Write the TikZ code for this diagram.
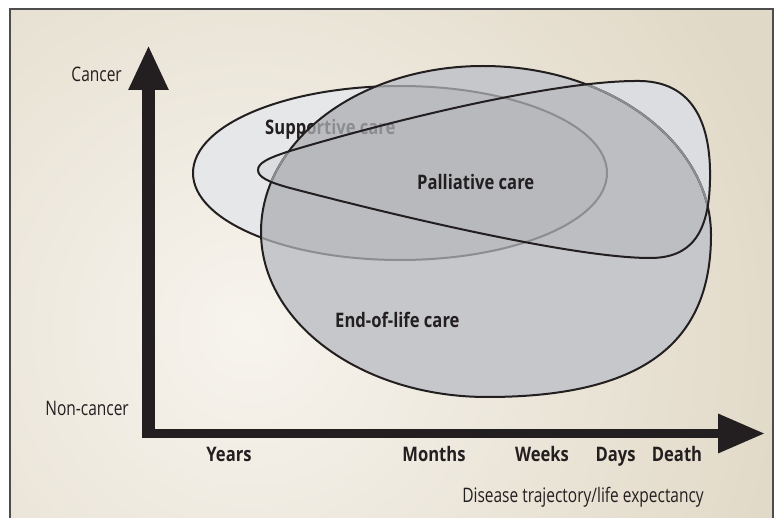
\documentclass[tikz,border=0pt]{standalone}
\usepackage{fontspec}
\usetikzlibrary{arrows.meta}
\newfontfamily\lblfont[FakeStretch=0.775]{Open Sans}
\newfontfamily\bldfont[FakeStretch=0.83]{Open Sans}
\definecolor{ink}{HTML}{231F20}
\definecolor{beige}{HTML}{E1D9C7}
\definecolor{beigelight}{HTML}{F7F4EE}
\definecolor{frameline}{HTML}{4D4D4D}
\definecolor{ellfill}{HTML}{E6E7E9}
\definecolor{tearfill}{HTML}{DCDDE0}
\definecolor{circfill}{HTML}{C6C7CA}
\definecolor{ovlA}{HTML}{BBBCBF}
\definecolor{ovlB}{HTML}{BDBEC1}
\definecolor{ovlC}{HTML}{B8B9BC}
\definecolor{greyline}{HTML}{8C8D90}
\begin{document}
\begin{tikzpicture}[x=1pt,y=-1pt,
  lbl/.style={font=\lblfont\fontsize{20}{23}\selectfont, text=ink, inner sep=0pt},
  bl/.style={font=\bldfont\bfseries\fontsize{20}{23}\selectfont, text=ink, inner sep=0pt},
  outl/.style={line width=2pt, draw=ink},
  greyl/.style={line width=2pt, draw=greyline},
  axis/.style={draw=ink, line cap=butt}]
\def\pathE{(400,173) ellipse [x radius=207, y radius=87]}
\def\pathC{(483,66) .. controls (609,66) and (711,142) .. (711,235)
  .. controls (711,345) and (640,397) .. (487,397)
  .. controls (362,397) and (261,323) .. (261,232)
  .. controls (261,140) and (360,66) .. (483,66) -- cycle}
\def\pathT{(258,170) .. controls (258,163) and (268,158) .. (290,151)
  .. controls (400,118) and (560,80) .. (640,81)
  .. controls (700,82) and (711,135) .. (710,180)
  .. controls (709,235) and (690,258) .. (650,258)
  .. controls (580,258) and (420,222) .. (290,188)
  .. controls (268,182) and (258,177) .. (258,170) -- cycle}
\useasboundingbox (0,0) rectangle (776,518);
\fill[white] (0,0) rectangle (776,518);
% background panel
\begin{scope}
  \clip (10,9) rectangle (773,530);
  \fill[beige] (10,9) rectangle (773,530);
  \shade[inner color=beigelight, outer color=beige] (250,330) circle (560);
\end{scope}
\draw[frameline, line width=1.5pt] (10,530) -- (10,9) -- (773,9) -- (773,530);
% supportive care ellipse
\fill[ellfill] \pathE;
\draw[outl] \pathE;
\node[bl, anchor=base west] (supp) at (265,135) {Supportive care};
% palliative teardrop fill
\fill[tearfill] \pathT;
% end-of-life blob
\fill[circfill] \pathC;
\begin{scope}
  \clip \pathC;
  \fill[ovlA] \pathE;
  \begin{scope}
    \clip \pathT;
    \fill[ovlB] \pathC;
    \fill[ovlC] \pathE;
  \end{scope}
  \draw[greyl] \pathE;
  \node[bl, anchor=base west, text=greyline] (suppgrey) at (265,135) {Supportive care};
\end{scope}
\draw[outl] \pathC;
\begin{scope}
  \clip \pathT;
  \draw[greyl] \pathC;
\end{scope}
\draw[outl] \pathT;
\node[bl, anchor=base west] (pall) at (417,189.5) {Palliative care};
\node[bl, anchor=base west] (eol) at (335,328) {End-of-life care};
% axes
\coordinate (yorig) at (148.5,438);
\coordinate (ytip) at (148.5,45);
\coordinate (xorig) at (142,433.5);
\coordinate (xtip) at (765,433.5);
\draw[axis, line width=12.5pt, -{Triangle[length=45pt,width=37pt]}] (yorig) -- (ytip);
\draw[axis, line width=9.5pt, -{Triangle[length=47pt,width=37pt]}] (xorig) -- (xtip);
% labels
\node[lbl, anchor=base east] (cancer) at (122,82) {Cancer};
\node[lbl, anchor=base east] (noncancer) at (129,415) {Non-cancer};
\node[bl, anchor=base] (years) at (229,461) {Years};
\node[bl, anchor=base] (months) at (434,461) {Months};
\node[bl, anchor=base] (weeks) at (542,461) {Weeks};
\node[bl, anchor=base] (days) at (615.5,461) {Days};
\node[bl, anchor=base] (death) at (677,461) {Death};
\node[lbl, anchor=base east] (traj) at (704,502) {Disease trajectory/life expectancy};
\end{tikzpicture}
\end{document}
